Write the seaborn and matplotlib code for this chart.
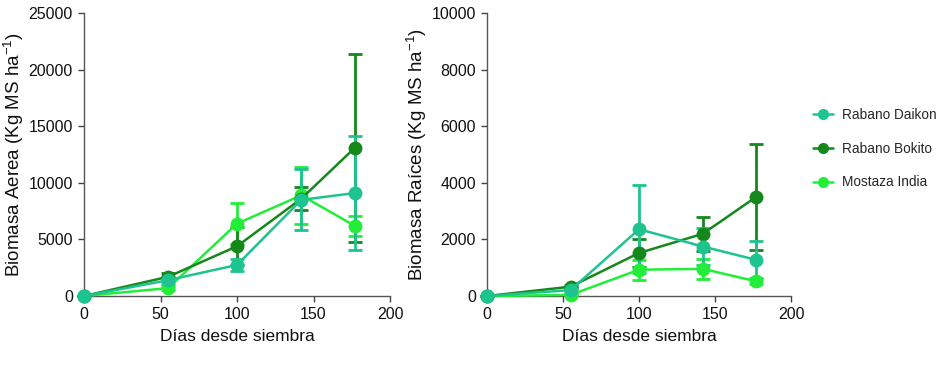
import matplotlib
matplotlib.use("Agg")
import matplotlib.pyplot as plt
import seaborn as sns
import pandas as pd
import numpy as np

sns.set_style("ticks")
plt.rcParams['font.family'] = ['Liberation Sans', 'DejaVu Sans']
plt.rcParams['mathtext.fontset'] = 'custom'
plt.rcParams['mathtext.rm'] = 'Liberation Sans'
plt.rcParams['mathtext.it'] = 'Liberation Sans:italic'

dias = [0, 55, 100, 142, 177]
series = ["Rabano Daikon", "Rabano Bokito", "Mostaza India"]
colors = {"Rabano Daikon": "#1ec48f", "Rabano Bokito": "#15881c", "Mostaza India": "#22ee3a"}

aerea_daikon = [0, 1400, 2750, 8500, 9100]
aerea_daikon_err = [0, 300, 550, 2700, 5000]
aerea_bokito = [0, 1700, 4400, 8600, 13100]
aerea_bokito_err = [0, 350, 1700, 1000, 8300]
aerea_mostaza = [0, 700, 6400, 8900, 6200]
aerea_mostaza_err = [0, 200, 1800, 2500, 900]

raices_daikon = [0, 210, 2360, 1750, 1280]
raices_daikon_err = [0, 60, 1550, 650, 670]
raices_bokito = [0, 330, 1520, 2200, 3500]
raices_bokito_err = [0, 60, 500, 600, 1870]
raices_mostaza = [0, 40, 930, 960, 520]
raices_mostaza_err = [0, 20, 350, 350, 100]

def make_df(d, b, m, de, be, me):
    rows = []
    for name, vals, errs in [("Mostaza India", m, me), ("Rabano Bokito", b, be), ("Rabano Daikon", d, de)]:
        for x, v, e in zip(dias, vals, errs):
            rows.append({"dias": x, "valor": v, "err": e, "serie": name})
    return pd.DataFrame(rows)

df_a = make_df(aerea_daikon, aerea_bokito, aerea_mostaza, aerea_daikon_err, aerea_bokito_err, aerea_mostaza_err)
df_r = make_df(raices_daikon, raices_bokito, raices_mostaza, raices_daikon_err, raices_bokito_err, raices_mostaza_err)

fig = plt.figure(figsize=(9.41, 3.65), dpi=100)
ax1 = fig.add_axes([0.0893, 0.189, 0.3252, 0.775])
ax2 = fig.add_axes([0.5175, 0.189, 0.3231, 0.775])

def draw(ax, df, ymax, ystep, ylabel):
    for name in ["Mostaza India", "Rabano Bokito", "Rabano Daikon"]:
        sub = df[df.serie == name]
        ax.errorbar(sub.dias, sub.valor, yerr=sub.err, fmt='none', ecolor=colors[name],
                    elinewidth=2, capsize=5, capthick=2, clip_on=False, zorder=2)
    sns.lineplot(data=df, x="dias", y="valor", hue="serie", palette=colors,
                 hue_order=["Mostaza India", "Rabano Bokito", "Rabano Daikon"],
                 marker="o", markersize=10, markeredgewidth=0, linewidth=1.8,
                 ax=ax, legend=False, clip_on=False, zorder=3)
    for l in ax.lines:
        l.set_clip_on(False)
    ax.set_xlim(0, 200)
    ax.set_ylim(0, ymax)
    ax.set_xticks([0, 50, 100, 150, 200])
    ax.set_yticks(np.arange(0, ymax + 1, ystep))
    ax.set_xlabel("Días desde siembra", fontsize=12.5, labelpad=5, color="#111111")
    ax.set_ylabel(ylabel, fontsize=13.5, labelpad=2, color="#111111")
    ax.tick_params(labelsize=11.5, width=1, length=4, pad=4, color="#444444", labelcolor="#111111")
    for s in ["left", "bottom"]:
        ax.spines[s].set_color("#555555")
        ax.spines[s].set_linewidth(1)
    sns.despine(ax=ax)

draw(ax1, df_a, 25000, 5000, "Biomasa Aerea (Kg MS ha$^{-1}$)")
draw(ax2, df_r, 10000, 2000, "Biomasa Raíces (Kg MS ha$^{-1}$)")

from matplotlib.lines import Line2D
handles = [Line2D([], [], color=colors[n], marker="o", markersize=7, linewidth=1.8) for n in series]
fig.legend(handles, series, loc="center left", bbox_to_anchor=(0.851, 0.593), frameon=False,
           fontsize=9.8, handlelength=1.5, handletextpad=0.6, labelspacing=1.45)

fig.savefig("out.png", dpi=100)
